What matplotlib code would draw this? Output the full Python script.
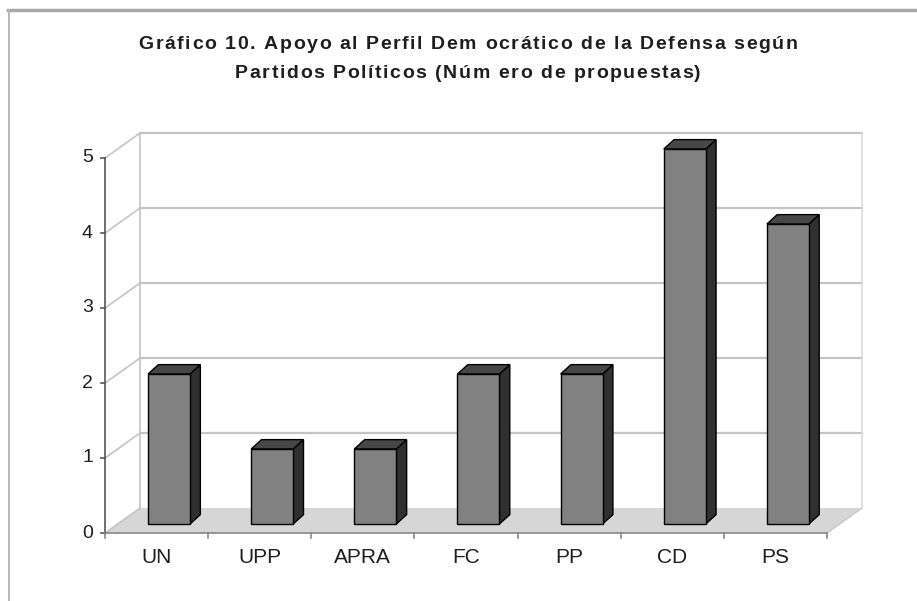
import matplotlib
matplotlib.use("Agg")
import matplotlib.pyplot as plt
from matplotlib.patches import Polygon
from matplotlib.lines import Line2D
from matplotlib.font_manager import FontProperties

# data
partidos = ["UN", "UPP", "APRA", "FC", "PP", "CD", "PS"]
propuestas = [2, 1, 1, 2, 2, 5, 4]
y_ticks = [0, 1, 2, 3, 4, 5]
titulo = ["Gráfico 10. Apoyo al Perfil Dem ocrático de la Defensa según",
          "Partidos Políticos (Núm ero de propuestas)"]

# 3d look (data units)
DX, DY = 0.34, 0.333        # depth of walls
OX, OY = 0.121, 0.12        # bar offset into the floor
BDX, BDY = 0.10, 0.125      # bar depth
W = 0.407                   # bar width
GRID = "#c4c4c4"

plt.rcParams["font.family"] = ["Liberation Sans", "DejaVu Sans"]

fig = plt.figure(figsize=(9.17, 6.01), dpi=100)
ax = fig.add_axes([105 / 917, 68 / 601, 722 / 917, 375 / 601])
n = len(partidos)
ax.set_xlim(0, n)
ax.set_ylim(0, 5)
ax.axis("off")

# floor
ax.add_patch(Polygon([(0, 0), (n, 0), (n + DX, DY), (DX, DY)], closed=True,
                     facecolor="#d6d6d6", edgecolor="none", clip_on=False, zorder=1))
ax.plot([n, n + DX], [0, DY], color="#c8c8c8", lw=1, clip_on=False, zorder=1)

# walls and gridlines
for v in y_ticks[1:]:
    ax.plot([DX, n + DX], [v + DY, v + DY], color=GRID, lw=1.6, clip_on=False, zorder=1)
for v in y_ticks:
    ax.plot([0, DX], [v, v + DY], color=GRID, lw=1.2, clip_on=False, zorder=1)
ax.plot([DX, DX], [DY, 5 + DY], color=GRID, lw=1.2, clip_on=False, zorder=1)
ax.plot([n + DX, n + DX], [DY, 5 + DY], color="#dcdcdc", lw=1.2, clip_on=False, zorder=1)

# axes
ax.plot([0, 0], [0, 5], color="#555555", lw=1.2, clip_on=False, zorder=2)
ax.plot([0, n], [0, 0], color="#888888", lw=1.2, clip_on=False, zorder=2)
for v in y_ticks:
    ax.plot([-0.04, 0], [v, v], color="#555555", lw=1.2, clip_on=False, zorder=2)
    ax.text(-0.17, v, str(v), ha="center", va="center", fontsize=14, color="#1e1e1e")
for i in range(n + 1):
    ax.plot([i, i], [0, -0.07], color="#888888", lw=1.2, clip_on=False, zorder=2)

# bars
for i, v in enumerate(propuestas):
    x0 = i + 0.5 - W / 2 + OX
    x1 = x0 + W
    y0 = OY
    y1 = v + OY
    side = [(x1, y0), (x1 + BDX, y0 + BDY), (x1 + BDX, y1 + BDY), (x1, y1)]
    top = [(x0, y1), (x1, y1), (x1 + BDX, y1 + BDY), (x0 + BDX, y1 + BDY)]
    front = [(x0, y0), (x1, y0), (x1, y1), (x0, y1)]
    ax.add_patch(Polygon(side, closed=True, facecolor="#303030", edgecolor="black",
                         lw=1, clip_on=False, zorder=3))
    ax.add_patch(Polygon(top, closed=True, facecolor="#474747", edgecolor="black",
                         lw=1, clip_on=False, zorder=3))
    ax.add_patch(Polygon(front, closed=True, facecolor="#818181", edgecolor="black",
                         lw=1, clip_on=False, zorder=4))
    ax.text(i + 0.5, -0.33, partidos[i], ha="center", va="center", fontsize=15,
            color="#1e1e1e")

# title, drawn char by char to get the wide letter spacing of the original
fp = FontProperties(family="Liberation Sans", weight="bold", size=14)
renderer = fig.canvas.get_renderer()
def char_w(ch):
    a = renderer.get_text_width_height_descent("x" + ch + "x", fp, ismath=False)[0]
    b = renderer.get_text_width_height_descent("xx", fp, ismath=False)[0]
    return a - b

track = 1.6
for line, base in zip(titulo, [49, 78]):
    widths = [char_w(ch) for ch in line]
    total = sum(widths) + track * (len(line) - 1)
    x = 468 - total / 2
    for ch, w in zip(line, widths):
        if ch != " ":
            fig.text(x / 917, 1 - base / 601, ch, ha="left", va="baseline",
                     fontproperties=fp, color="#1e1e1e")
        x += w + track

# chart frame (top and left edge)
fig.add_artist(Line2D([8 / 917, 1], [1 - 10 / 601, 1 - 10 / 601], color="#a8a8a8", lw=2.5))
fig.add_artist(Line2D([9 / 917, 9 / 917], [0, 1 - 10 / 601], color="#b8b8b8", lw=1.5))

fig.savefig("out.png", dpi=100)
